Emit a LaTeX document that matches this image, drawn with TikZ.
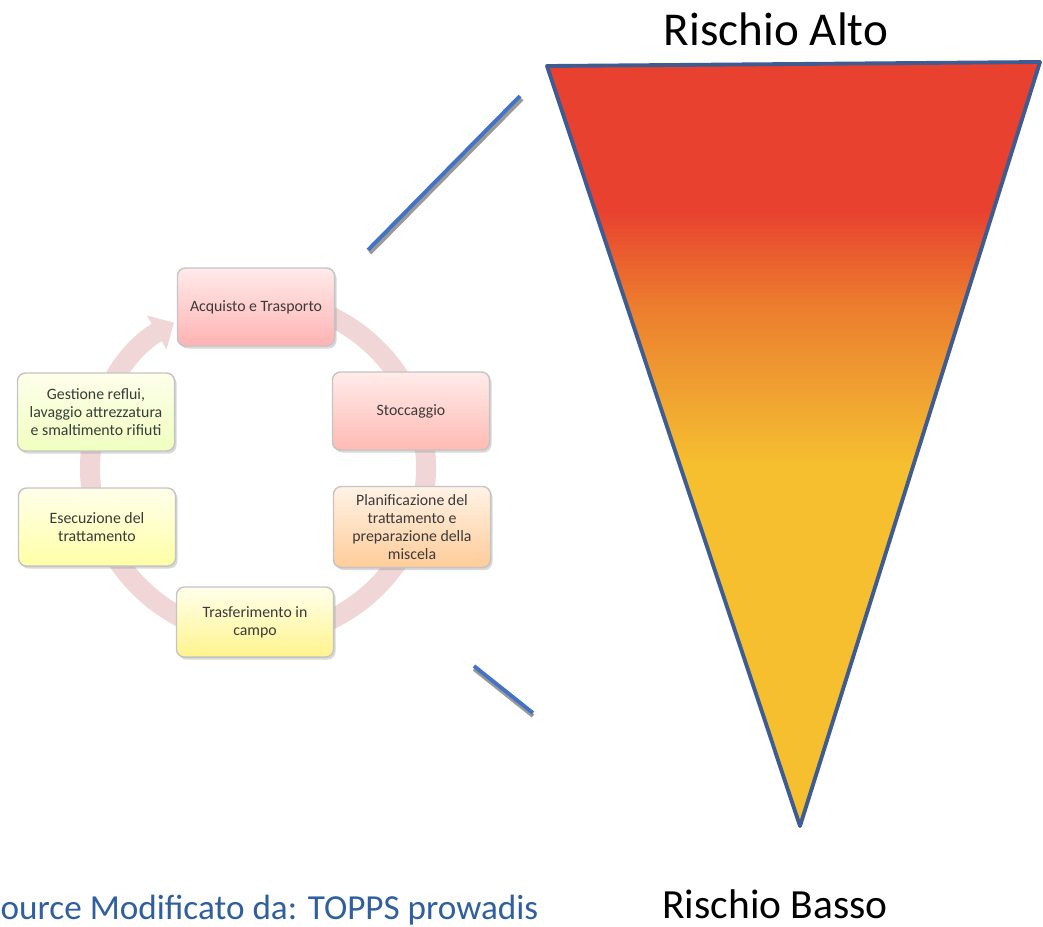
\documentclass[tikz,border=0pt]{standalone}
\usepackage{fontspec}
\setmainfont{Carlito}
\usetikzlibrary{arrows.meta,shadows}

\begin{document}
\begin{tikzpicture}[x=0.01cm, y=-0.01cm,
  fase/.style={draw=boxLine, line width=0.4pt, rounded corners=0.08cm,
    align=center, text=boxText, font=\fontsize{4.5}{5.1}\selectfont,
    minimum width=1.57cm, minimum height=0.78cm, inner sep=1pt,
    drop shadow={opacity=0.3, shadow xshift=0.02cm, shadow yshift=-0.025cm}},
  zoomline/.style={draw=zoomBlue, line width=1.1pt},
  zoomshadow/.style={draw=black!40, line width=1.1pt},
  rischio/.style={font=\fontsize{13.4}{16}\selectfont, anchor=base}]

% Colori
\definecolor{boxLine}{HTML}{C4C4C4}
\definecolor{boxText}{HTML}{3A3A3A}
\definecolor{ringPink}{HTML}{F0D6D6}
\definecolor{zoomBlue}{HTML}{4472C4}
\definecolor{triLine}{HTML}{3E5C92}
\definecolor{riskRed}{HTML}{E8412F}
\definecolor{riskOrange}{HTML}{EC7A2E}
\definecolor{riskAmber}{HTML}{F0A531}
\definecolor{riskYellow}{HTML}{F6BF2F}
\definecolor{srcBlue}{HTML}{2F5F9F}

\useasboundingbox (0,0) rectangle (1043,926);

% Anello del ciclo
\draw[ringPink, line width=0.2cm, -{Triangle[width=0.38cm, length=0.2cm]}]
  (258,300) arc[start angle=-90, end angle=240, radius=168];

% Fasi
\node[fase, top color=red!8!white, bottom color=red!30!white] (acq) at (256,307) {Acquisto e Trasporto};
\node[fase, top color=orange!10!red!8!white, bottom color=orange!20!red!30!white] (stocc) at (411,411) {Stoccaggio};
\node[fase, top color=orange!10!white, bottom color=orange!40!white, minimum height=0.81cm] (plan) at (412,527)
  {Planificazione del\\trattamento e\\preparazione della\\miscela};
\node[fase, top color=yellow!8!white, bottom color=orange!20!yellow!45!white, minimum height=0.70cm] (trasf) at (255,622)
  {Trasferimento in\\campo};
\node[fase, top color=yellow!8!white, bottom color=yellow!35!white] (esec) at (97,527) {Esecuzione del\\trattamento};
\node[fase, top color=green!5!yellow!8!white, bottom color=green!25!yellow!25!white] (gest) at (96,412)
  {Gestione reflui,\\lavaggio attrezzatura\\e smaltimento rifiuti};

% Linee di ingrandimento
\coordinate (lnA1) at (368,250);
\coordinate (lnA2) at (520,96);
\coordinate (lnB1) at (474,666);
\coordinate (lnB2) at (533,713);
\draw[zoomshadow] ([shift={(2,3)}]lnA1) -- ([shift={(2,3)}]lnA2);
\draw[zoomline] (lnA1) -- (lnA2);
\draw[zoomshadow] ([shift={(0,3)}]lnB1) -- ([shift={(0,3)}]lnB2);
\draw[zoomline] (lnB1) -- (lnB2);

% Triangolo del rischio
\coordinate (triL) at (547,66);
\coordinate (triR) at (1040,62);
\coordinate (triB) at (800,826);
\begin{scope}
  \clip (triL) -- (triR) -- (triB) -- cycle;
  \fill[riskRed] (540,55) rectangle (1043,211);
  \fill[top color=riskRed, bottom color=riskOrange] (540,210) rectangle (1043,301);
  \fill[top color=riskOrange, bottom color=riskAmber] (540,300) rectangle (1043,401);
  \fill[top color=riskAmber, bottom color=riskYellow] (540,400) rectangle (1043,466);
  \fill[riskYellow] (540,465) rectangle (1043,830);
\end{scope}
\draw[triLine, line width=1.1pt, line join=round] (triL) -- (triR) -- (triB) -- cycle;

% Etichette
\node[rischio] (alto) at (776,45) {Rischio Alto};
\node[rischio, font=\fontsize{11.8}{14}\selectfont] (basso) at (775,918) {Rischio Basso};
\node[anchor=base west, inner sep=0pt, text=srcBlue, font=\fontsize{10}{12}\selectfont] (fonte) at (0,919)
  {ource Modificato da: TOPPS prowadis};
\end{tikzpicture}
\end{document}
